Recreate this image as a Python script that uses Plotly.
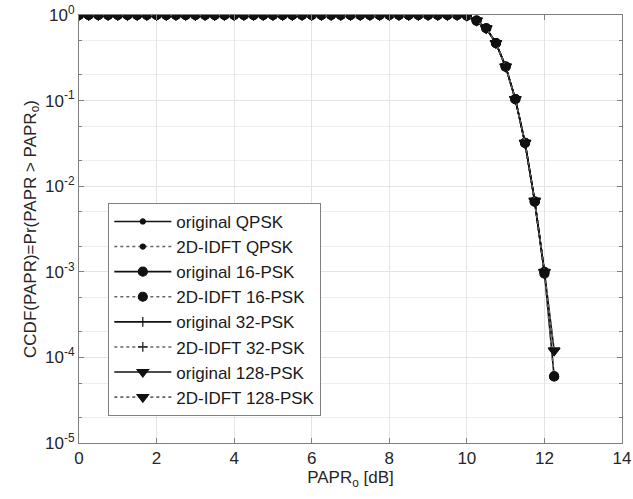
import plotly.graph_objects as go

# PAPR threshold values [dB]
papr_db = [0.0, 0.25, 0.5, 0.75, 1.0, 1.25, 1.5, 1.75, 2.0, 2.25,
           2.5, 2.75, 3.0, 3.25, 3.5, 3.75, 4.0, 4.25, 4.5, 4.75,
           5.0, 5.25, 5.5, 5.75, 6.0, 6.25, 6.5, 6.75, 7.0, 7.25,
           7.5, 7.75, 8.0, 8.25, 8.5, 8.75, 9.0, 9.25, 9.5, 9.75,
           10.0, 10.25, 10.5, 10.75, 11.0, 11.25, 11.5, 11.75, 12.0, 12.25]

# CCDF values (flat at 1 up to 9.75 dB)
ccdf_orig_qpsk = [1.0] * 40 + [0.985, 0.86, 0.70, 0.47, 0.25, 0.104, 0.032, 0.0066, 0.00098, None]
ccdf_idft_qpsk = [1.0] * 40 + [0.985, 0.86, 0.70, 0.47, 0.25, 0.103, 0.032, 0.0065, 0.00097, None]
ccdf_orig_16psk = [1.0] * 40 + [0.985, 0.86, 0.70, 0.47, 0.25, 0.104, 0.032, 0.0066, 0.00100, 0.00006]
ccdf_idft_16psk = [1.0] * 40 + [0.985, 0.86, 0.70, 0.47, 0.25, 0.104, 0.032, 0.0066, 0.00095, 0.00006]
ccdf_orig_32psk = [1.0] * 40 + [0.985, 0.86, 0.70, 0.47, 0.25, 0.104, 0.032, 0.0066, 0.00098, None]
ccdf_idft_32psk = [1.0] * 40 + [0.985, 0.86, 0.70, 0.47, 0.25, 0.104, 0.032, 0.0066, 0.00098, None]
ccdf_orig_128psk = [1.0] * 40 + [0.985, 0.86, 0.70, 0.47, 0.25, 0.104, 0.032, 0.0068, 0.00100, 0.00012]
ccdf_idft_128psk = [1.0] * 40 + [0.985, 0.86, 0.70, 0.47, 0.25, 0.104, 0.032, 0.0067, 0.00099, 0.00012]

ytick_vals = [1e-5, 1e-4, 1e-3, 1e-2, 1e-1, 1]
ytick_text = ["10<sup>-5</sup>", "10<sup>-4</sup>", "10<sup>-3</sup>",
              "10<sup>-2</sup>", "10<sup>-1</sup>", "10<sup>0</sup>"]

series = [
    ("original QPSK", ccdf_orig_qpsk, "solid", "circle", 5),
    ("2D-IDFT QPSK", ccdf_idft_qpsk, "dot", "circle", 5),
    ("original 16-PSK", ccdf_orig_16psk, "solid", "circle", 9),
    ("2D-IDFT 16-PSK", ccdf_idft_16psk, "dot", "circle", 9),
    ("original 32-PSK", ccdf_orig_32psk, "solid", "line-ns", 7),
    ("2D-IDFT 32-PSK", ccdf_idft_32psk, "dot", "cross-thin", 7),
    ("original 128-PSK", ccdf_orig_128psk, "solid", "triangle-down", 10),
    ("2D-IDFT 128-PSK", ccdf_idft_128psk, "dot", "triangle-down", 10),
]

fig = go.Figure()
for name, vals, dash, sym, size in series:
    lcol = "#111111" if dash == "solid" else "#666666"
    fig.add_trace(go.Scatter(
        x=papr_db, y=vals, name=name, mode="lines+markers",
        line=dict(color=lcol, width=1.6, dash=dash),
        marker=dict(symbol=sym, size=size, color="#111111",
                    line=dict(color="#111111", width=1.2)),
    ))

txt_font = dict(family="Liberation Sans, Arial", size=17, color="#262626")

axis_common = dict(
    showline=True, linecolor="#808080", linewidth=1, mirror="allticks",
    ticks="inside", tickcolor="#808080", ticklen=5,
    showgrid=True, gridcolor="#e4e4e4", gridwidth=1,
    zeroline=False, automargin=False, ticklabeloverflow="allow",
    tickfont=txt_font,
)

fig.update_xaxes(
    range=[0, 14], tickvals=[0, 2, 4, 6, 8, 10, 12, 14],
    title=dict(text="PAPR<sub>o</sub> [dB]", standoff=2, font=txt_font),
    **axis_common,
)
fig.update_yaxes(
    type="log", range=[-5, 0], tickvals=ytick_vals, ticktext=ytick_text,
    minor=dict(showgrid=True, gridcolor="#eeeeee", ticks="inside", ticklen=3,
               tickcolor="#808080"),
    title=dict(text="CCDF(PAPR)=Pr(PAPR > PAPR<sub>o</sub>)", standoff=4, font=txt_font),
    **axis_common,
)

fig.update_layout(
    width=633, height=499,
    margin=dict(l=79, r=11, t=15, b=56),
    plot_bgcolor="white", paper_bgcolor="white",
    legend=dict(
        x=0.054, y=0.561, xanchor="left", yanchor="top",
        bgcolor="white", bordercolor="#808080", borderwidth=1,
        font=dict(family="Liberation Sans, Arial", size=17, color="#1a1a1a"),
        tracegroupgap=0, itemwidth=57,
    ),
)

# drop the default page margin so the figure sits at the window corner
fig.write_html("out.html", config={"displayModeBar": False},
               post_script="document.body.style.margin='0';")
